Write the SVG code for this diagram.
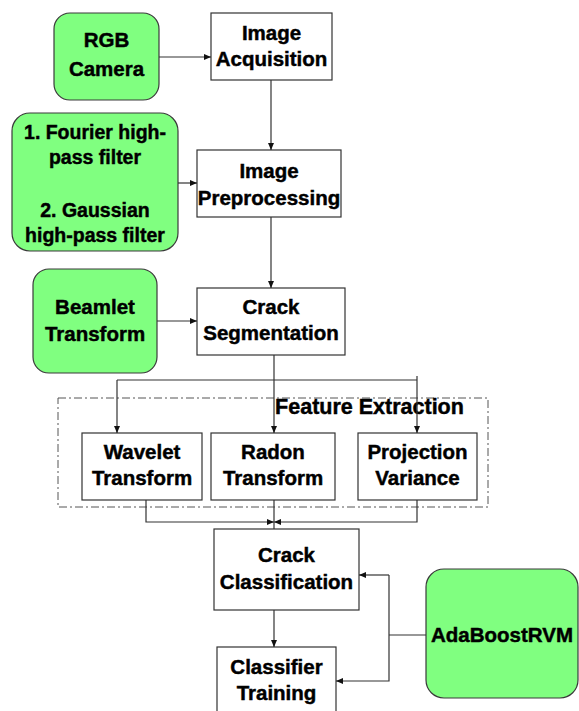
<svg xmlns="http://www.w3.org/2000/svg" width="579" height="711" viewBox="0 0 579 711">
<style>
.box{fill:#fff;stroke:#333;stroke-width:1.2}
.g{fill:#80FF80;stroke:#3a3a3a;stroke-width:1.2}
.t{font-family:"Liberation Sans",Arial,sans-serif;font-weight:bold;font-size:20.5px;fill:#000;stroke:#000;stroke-width:0.45;text-anchor:middle}
.f{font-size:19.5px}
.c{fill:none;stroke:#333;stroke-width:1.2}
.a{marker-end:url(#ah)}
</style>
<defs>
<marker id="ah" markerWidth="8" markerHeight="8" refX="7" refY="4" orient="auto" markerUnits="userSpaceOnUse">
<path d="M0,1 L7,4 L0,7 Z" fill="#111"/>
</marker>
</defs>
<rect width="579" height="711" fill="#fff"/>
<g id="feature-extraction">
<rect x="58" y="398" width="430" height="109" fill="none" stroke="#555" stroke-width="1" stroke-dasharray="8,3,2,3"/>
<text class="t" x="369.5" y="414" style="font-size:21.5px">Feature Extraction</text>
</g>
<g id="rgb-camera">
<rect class="g" x="54" y="13" width="105" height="87" rx="16"/>
<text class="t" x="106.5" y="47">RGB</text>
<text class="t" x="106.5" y="76">Camera</text>
</g>
<g id="image-acquisition">
<rect class="box" x="211" y="13" width="121" height="67"/>
<text class="t" x="271.5" y="40">Image</text>
<text class="t" x="271.5" y="66">Acquisition</text>
</g>
<g id="filters">
<rect class="g" x="12" y="113" width="166" height="138" rx="18"/>
<text class="t f" x="95" y="139">1. Fourier high-</text>
<text class="t f" x="95" y="164">pass filter</text>
<text class="t f" x="95" y="217">2. Gaussian</text>
<text class="t f" x="95" y="242">high-pass filter</text>
</g>
<g id="image-preprocessing">
<rect class="box" x="197" y="150" width="144" height="67"/>
<text class="t" x="269" y="178">Image</text>
<text class="t" x="269" y="205">Preprocessing</text>
</g>
<g id="beamlet">
<rect class="g" x="33" y="269" width="124" height="104" rx="16"/>
<text class="t" x="95" y="314">Beamlet</text>
<text class="t" x="95" y="341">Transform</text>
</g>
<g id="crack-segmentation">
<rect class="box" x="197" y="288" width="148" height="67"/>
<text class="t" x="271" y="314">Crack</text>
<text class="t" x="271" y="340">Segmentation</text>
</g>
<g id="wavelet">
<rect class="box" x="82" y="433" width="120" height="67"/>
<text class="t" x="142" y="459">Wavelet</text>
<text class="t" x="142" y="485">Transform</text>
</g>
<g id="radon">
<rect class="box" x="211" y="433" width="124" height="67"/>
<text class="t" x="273" y="459">Radon</text>
<text class="t" x="273" y="485">Transform</text>
</g>
<g id="projection">
<rect class="box" x="358" y="433" width="119" height="67"/>
<text class="t" x="417.5" y="459">Projection</text>
<text class="t" x="417.5" y="485">Variance</text>
</g>
<g id="crack-classification">
<rect class="box" x="214" y="529" width="145" height="81"/>
<text class="t" x="286.5" y="562">Crack</text>
<text class="t" x="286.5" y="589">Classification</text>
</g>
<g id="classifier-training">
<rect class="box" x="217" y="647" width="119" height="70"/>
<text class="t" x="276.5" y="674">Classifier</text>
<text class="t" x="276.5" y="700">Training</text>
</g>
<g id="adaboostrvm">
<rect class="g" x="426" y="569" width="152" height="129" rx="18"/>
<text class="t" x="502" y="642">AdaBoostRVM</text>
</g>
<g id="connectors">
<path class="c a" d="M159,57 H211"/>
<path class="c a" d="M271,80 V150"/>
<path class="c a" d="M178,183 H197"/>
<path class="c a" d="M271,217 V288"/>
<path class="c a" d="M157,321 H197"/>
<path class="c a" d="M274,355 V433"/>
<path class="c" d="M117,380 H417"/>
<path class="c a" d="M117,380 V433"/>
<path class="c a" d="M417,376 V433"/>
<path class="c a" d="M146,500 V522 H274"/>
<path class="c a" d="M417,500 V522 H274"/>
<path class="c" d="M274,500 V529"/>
<path class="c a" d="M274,610 V647"/>
<path class="c" d="M426,635 H389"/>
<path class="c a" d="M389,575 V681 H336"/>
<path class="c a" d="M389,575 H359"/>
</g>
</svg>
